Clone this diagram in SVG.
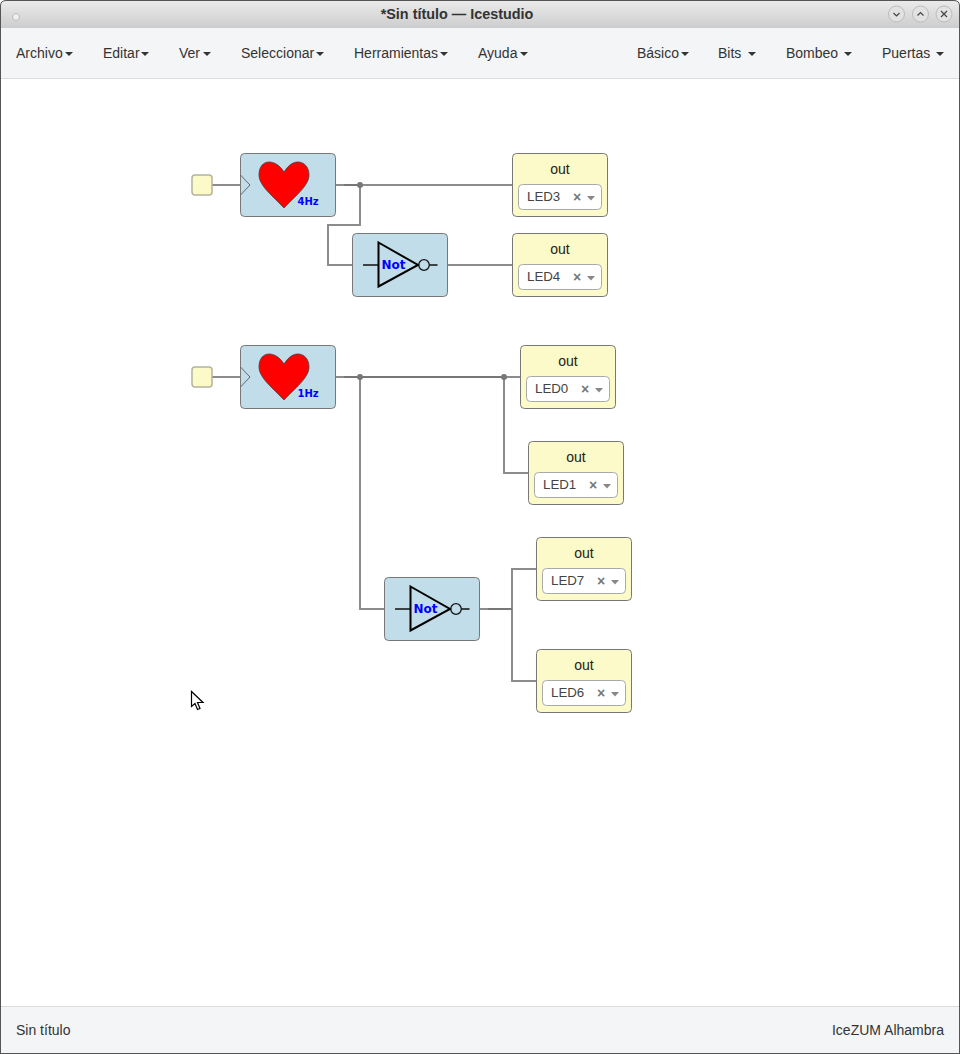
<svg xmlns="http://www.w3.org/2000/svg" width="960" height="1054" viewBox="0 0 960 1054">
<style>
text{font-family:"Liberation Sans",Arial,sans-serif;fill:#333}
.menu{font-size:14px}
.block{fill:#c1dde9;stroke:#777;stroke-width:1}
.io{fill:#fbfac8;stroke:#777;stroke-width:1}
.pin{fill:#fbfac8;stroke:#b4b4a0;stroke-width:1.500}
.sel{fill:#fff;stroke:#aaa;stroke-width:1}
.wire{fill:none;stroke:#8c8c8c;stroke-width:2}
.wire2{fill:none;stroke:#777;stroke-width:2}
.dot{fill:#777}
.out{font-size:14px;fill:#222;text-anchor:middle}
.led{font-size:13.300px;fill:#444}
.x{font-size:14px;font-weight:bold;fill:#777;text-anchor:middle}
.blue{font-family:"DejaVu Sans",sans-serif;font-weight:bold;fill:#00f}
.gate{fill:none;stroke:#000;stroke-width:2}
.gate1{fill:none;stroke:#111;stroke-width:1.300}
.heart{fill:#f00;stroke:#444;stroke-width:.8}
.car{fill:#333}
.arr{fill:#888}
.btn{fill:#e2e2e2;stroke:#bbb;stroke-width:1}
.ico{fill:none;stroke:#444;stroke-width:1.200}
</style>
<defs>
<linearGradient id="tb" x1="0" y1="0" x2="0" y2="1"><stop offset="0" stop-color="#ebebeb"/><stop offset="1" stop-color="#cdcdcd"/></linearGradient>
<path id="caret" class="car" d="M0 0h8l-4 4z"/>
<path id="hrt" class="heart" d="M44 19C39 11 33 9 29 9C23 9 19 14 19 22C19 33 34 44 44 55C54 44 69 33 69 22C69 14 64 9 58 9C54 9 49 11 44 19Z"/>
<g id="notg"><path class="gate" d="M26.500 9.500L66 32L26.500 53.500Z"/><circle class="gate1" cx="72" cy="32" r="5.300"/><path class="gate1" d="M11 32H26.500M77.500 32H85.500"/></g>
<path id="arrow" class="arr" d="M0 0h8l-4 4.500z"/>
</defs>
<rect width="960" height="1054" fill="#fff"/>
<g id="window">
<path d="M0 28V6Q0 0 6 0H954Q960 0 960 6V28Z" fill="url(#tb)"/>
<rect y="28" width="960" height="50" fill="#f4f5f7"/>
<rect y="78" width="960" height="1" fill="#dcdcdc"/>
<rect y="1006" width="960" height="48" fill="#f4f5f7"/>
<rect y="1006" width="960" height="1" fill="#dcdcdc"/>
<path d="M.5 1054V6Q.5 .5 6 .5H954Q959.500 .5 959.500 6V1054" fill="none" stroke="#555"/>
<path d="M0 1053.500H960" stroke="#555"/>
<circle cx="16" cy="17" r="3.500" fill="#eee" stroke="#bbb"/>
<text x="457" y="19" text-anchor="middle" font-size="14.400" font-weight="bold" style="fill:#333">*Sin título — Icestudio</text>
<circle class="btn" cx="896.500" cy="14" r="8"/><path class="ico" d="M893.500 13l3 3 3-3"/>
<circle class="btn" cx="920.500" cy="14" r="8"/><path class="ico" d="M917.500 15.500l3-3 3 3"/>
<circle class="btn" cx="944" cy="14" r="8"/><path class="ico" d="M941 11l6 6m0-6l-6 6"/>
</g>
<g id="menu">
<text class="menu" x="16" y="58">Archivo</text><use href="#caret" x="65" y="52"/>
<text class="menu" x="103" y="58">Editar</text><use href="#caret" x="141" y="52"/>
<text class="menu" x="179" y="58">Ver</text><use href="#caret" x="203" y="52"/>
<text class="menu" x="241" y="58">Seleccionar</text><use href="#caret" x="316" y="52"/>
<text class="menu" x="354" y="58">Herramientas</text><use href="#caret" x="440" y="52"/>
<text class="menu" x="478" y="58">Ayuda</text><use href="#caret" x="520" y="52"/>
<text class="menu" x="637" y="58">Básico</text><use href="#caret" x="681" y="52"/>
<text class="menu" x="718" y="58">Bits</text><use href="#caret" x="748" y="52"/>
<text class="menu" x="786" y="58">Bombeo</text><use href="#caret" x="844" y="52"/>
<text class="menu" x="882" y="58">Puertas</text><use href="#caret" x="936" y="52"/>
</g>
<g id="footer">
<text class="menu" x="16" y="1035">Sin título</text>
<text class="menu" x="944" y="1035" text-anchor="end">IceZUM Alhambra</text>
</g>
<g id="connectors">
<path class="wire" d="M212 185H240M336 185H512M360 185V225H328V265H352M448 265H512"/>
<path class="wire2" d="M344 185H360"/>
<circle class="dot" cx="360" cy="185" r="3"/>
<path class="wire" d="M212 377H240M336 377H520M504 377V473H528M360 377V609H384M480 609H512M536 569H512V681H536"/>
<path class="wire2" d="M344 377H504M488 609H512"/>
<circle class="dot" cx="360" cy="377" r="3"/>
<circle class="dot" cx="504" cy="377" r="3"/>
</g>
<g id="input1"><rect class="pin" x="192" y="175" width="20" height="20" rx="3"/></g>
<g id="clock4hz" transform="translate(240 153)">
<rect class="block" x=".5" y=".5" width="95" height="63" rx="4"/>
<path d="M.5 22L10 32L.5 42" fill="none" stroke="#666"/>
<use href="#hrt"/>
<text class="blue" x="57.500" y="52" font-size="10">4Hz</text>
</g>
<g id="not1" transform="translate(352 233)">
<rect class="block" x=".5" y=".5" width="95" height="63" rx="4"/>
<use href="#notg"/>
<text class="blue" x="29.500" y="36" font-size="12">Not</text>
</g>
<g id="led3" transform="translate(512 153)">
<rect class="io" x=".5" y=".5" width="95" height="63" rx="4"/>
<text class="out" x="48" y="21">out</text>
<rect class="sel" x="6.500" y="31.500" width="83" height="25" rx="4"/>
<text class="led" x="15" y="48">LED3</text><text class="x" x="65" y="49">×</text><use href="#arrow" x="75" y="43"/>
</g>
<g id="led4" transform="translate(512 233)">
<rect class="io" x=".5" y=".5" width="95" height="63" rx="4"/>
<text class="out" x="48" y="21">out</text>
<rect class="sel" x="6.500" y="31.500" width="83" height="25" rx="4"/>
<text class="led" x="15" y="48">LED4</text><text class="x" x="65" y="49">×</text><use href="#arrow" x="75" y="43"/>
</g>
<g id="input2"><rect class="pin" x="192" y="367" width="20" height="20" rx="3"/></g>
<g id="clock1hz" transform="translate(240 345)">
<rect class="block" x=".5" y=".5" width="95" height="63" rx="4"/>
<path d="M.5 22L10 32L.5 42" fill="none" stroke="#666"/>
<use href="#hrt"/>
<text class="blue" x="57.500" y="52" font-size="10">1Hz</text>
</g>
<g id="led0" transform="translate(520 345)">
<rect class="io" x=".5" y=".5" width="95" height="63" rx="4"/>
<text class="out" x="48" y="21">out</text>
<rect class="sel" x="6.500" y="31.500" width="83" height="25" rx="4"/>
<text class="led" x="15" y="48">LED0</text><text class="x" x="65" y="49">×</text><use href="#arrow" x="75" y="43"/>
</g>
<g id="led1" transform="translate(528 441)">
<rect class="io" x=".5" y=".5" width="95" height="63" rx="4"/>
<text class="out" x="48" y="21">out</text>
<rect class="sel" x="6.500" y="31.500" width="83" height="25" rx="4"/>
<text class="led" x="15" y="48">LED1</text><text class="x" x="65" y="49">×</text><use href="#arrow" x="75" y="43"/>
</g>
<g id="not2" transform="translate(384 577)">
<rect class="block" x=".5" y=".5" width="95" height="63" rx="4"/>
<use href="#notg"/>
<text class="blue" x="29.500" y="36" font-size="12">Not</text>
</g>
<g id="led7" transform="translate(536 537)">
<rect class="io" x=".5" y=".5" width="95" height="63" rx="4"/>
<text class="out" x="48" y="21">out</text>
<rect class="sel" x="6.500" y="31.500" width="83" height="25" rx="4"/>
<text class="led" x="15" y="48">LED7</text><text class="x" x="65" y="49">×</text><use href="#arrow" x="75" y="43"/>
</g>
<g id="led6" transform="translate(536 649)">
<rect class="io" x=".5" y=".5" width="95" height="63" rx="4"/>
<text class="out" x="48" y="21">out</text>
<rect class="sel" x="6.500" y="31.500" width="83" height="25" rx="4"/>
<text class="led" x="15" y="48">LED6</text><text class="x" x="65" y="49">×</text><use href="#arrow" x="75" y="43"/>
</g>
<path id="cursor" d="M191.500 691.500V706.500L195 703.500L197.500 709.500L200 708.500L197.500 702.500L203 702.500Z" fill="#fff" stroke="#000" stroke-width="1.200"/>
</svg>
